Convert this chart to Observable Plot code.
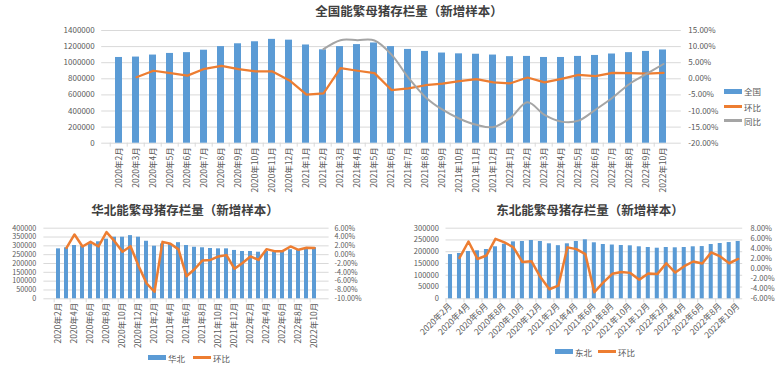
<!DOCTYPE html>
<html><head><meta charset="utf-8">
<script src="https://cdn.jsdelivr.net/npm/d3@7"></script>
<script src="https://cdn.jsdelivr.net/npm/@observablehq/plot@0.6"></script>
<style>
body{margin:0;background:#fff;font-family:"Noto Sans CJK SC","Noto Sans",sans-serif;}
#root{position:relative;width:782px;height:368px;overflow:hidden;background:#fff;}
.layer{position:absolute;}
.title{position:absolute;font-weight:bold;font-size:12.5px;color:#404040;white-space:nowrap;transform:translate(-50%,-50%);line-height:1;}
.leg{position:absolute;font-size:8.5px;color:#595959;white-space:nowrap;transform:translateY(-50%);line-height:1;}
.sw{position:absolute;}
</style></head><body><div id="root"></div>
<script>
const FONT = '"Noto Sans CJK SC","Noto Sans",sans-serif';

const months = ["2020年2月","2020年3月","2020年4月","2020年5月","2020年6月","2020年7月","2020年8月","2020年9月","2020年10月","2020年11月","2020年12月",
"2021年1月","2021年2月","2021年3月","2021年4月","2021年5月","2021年6月","2021年7月","2021年8月","2021年9月","2021年10月","2021年11月","2021年12月",
"2022年1月","2022年2月","2022年3月","2022年4月","2022年5月","2022年6月","2022年7月","2022年8月","2022年9月","2022年10月"];

const nationalStock = [1065000,1070000,1095000,1115000,1125000,1155000,1200000,1235000,1260000,1290000,1280000,
1220000,1160000,1200000,1225000,1245000,1200000,1165000,1140000,1120000,1110000,1105000,1095000,
1075000,1078000,1065000,1065000,1078000,1090000,1108000,1125000,1140000,1158000];
const nationalMoM = [null,0.5,2.5,1.75,1.0,3.1,4.0,3.0,2.3,2.3,-0.5,
-4.9,-4.5,3.3,2.5,1.75,-3.5,-3.0,-2.0,-1.5,-0.7,-0.1,-1.1,
-1.4,0.4,-1.1,0.0,1.2,0.8,1.85,1.75,1.6,1.85];
const nationalYoY = [null,null,null,null,null,null,null,null,null,null,null,
null,9.2,12.0,12.0,11.9,7.5,0.3,-5.7,-9.6,-12.4,-14.3,-15.0,
-12.1,-7.3,-11.2,-13.3,-13.0,-9.6,-5.9,-1.6,1.5,4.6];

const northStock = [283000,289000,302000,298000,311000,323000,338000,349000,349000,358000,349000,
326000,298000,311000,311000,318000,302000,292000,289000,285000,283000,283000,274000,
268000,268000,264000,268000,264000,268000,278000,278000,289000,289000];
const northMoM = [null,1.56,4.58,1.86,2.9,1.86,5.1,3.07,0.65,1.93,-2.5,
-6.5,-8.4,2.9,2.47,1.2,-4.9,-3.3,-1.3,-1.2,-0.4,-0.1,-3.2,
-1.9,-0.4,-1.2,1.25,0.8,0.8,1.86,1.1,1.56,1.5];

const northeastStock = [188000,192500,201000,204000,209500,221000,232000,242000,243500,247700,243500,
233700,225800,233700,243500,250700,238000,230700,228500,226500,225200,221000,218000,
215000,218000,216700,218000,221000,222000,230700,235000,239000,243500];
const northeastMoM = [null,2.1,5.36,1.9,2.58,5.9,5.2,4.2,1.3,1.45,-1.7,
-4.1,-3.4,4.2,3.85,2.85,-4.7,-2.75,-1.05,-0.68,-0.86,-2.2,-1.0,
-1.1,1.05,-0.8,0.46,1.4,1.0,3.2,2.4,1.05,1.9];

const nationalLeftTicks = [0,200000,400000,600000,800000,1000000,1200000,1400000];
const nationalRightTicks = [-20,-15,-10,-5,0,5,10,15];
const northLeftTicks = [0,50000,100000,150000,200000,250000,300000,350000,400000];
const northRightTicks = [-10,-8,-6,-4,-2,0,2,4,6];
const northeastLeftTicks = [0,50000,100000,150000,200000,250000,300000];
const northeastRightTicks = [-6,-4,-2,0,2,4,6,8];

const root = document.getElementById("root");

function place(el, left, top) {
  const d = document.createElement("div");
  d.className = "layer";
  d.style.left = left + "px";
  d.style.top = top + "px";
  d.appendChild(el);
  root.appendChild(d);
}

function panel(c) {
  const rows = months.map((m, i) => ({m, i, stock: c.stock[i], mom: c.mom[i], yoy: c.yoy ? c.yoy[i] : null}));
  const innerW = c.width - c.mL - c.mR;
  const innerH = c.height - c.mT - c.mB;
  const step = innerW / months.length;
  const xOpt = {domain: months, paddingInner: c.pad, paddingOuter: c.pad / 2, align: 0.5, axis: null, label: null};
  const common = {
    width: c.width, height: c.height,
    marginLeft: c.mL, marginRight: c.mR, marginTop: c.mT, marginBottom: c.mB,
    style: {background: "transparent", fontFamily: FONT, fontSize: c.yFont + "px", color: "#595959", overflow: "visible"}
  };
  const labelMonths = months.filter((m, i) => i % c.every === 0);
  const base = Plot.plot({
    ...common,
    x: xOpt,
    y: {domain: c.yDomain, axis: null, label: null},
    marks: [
      Plot.gridY(c.leftTicks, {stroke: "#d9d9d9", strokeOpacity: 1, strokeWidth: 1}),
      Plot.axisY(c.leftTicks, {anchor: "left", label: null, tickSize: 0, tickPadding: c.lPad, tickFormat: d3.format("d"), fill: "#595959"}),
      Plot.barY(rows, {x: "m", y: "stock", fill: "#5B9BD5"}),
      Plot.ruleX(labelMonths, {x: d => d, dx: -step / 2, insetTop: innerH, insetBottom: -4, stroke: "#d9d9d9"}),
      Plot.axisX(labelMonths, {anchor: "bottom", label: null, tickSize: 0, tickPadding: c.xPad, tickRotate: c.rotate, fontSize: c.xFont, fill: "#595959"})
    ]
  });
  place(base, c.left, c.top);
  const lineMarks = [
    Plot.axisY(c.rightTicks, {anchor: "right", label: null, tickSize: 0, tickPadding: c.rPad, tickFormat: d => d.toFixed(2) + "%", fill: "#595959"}),
    Plot.line(rows.filter(d => d.mom != null), {x: "m", y: "mom", stroke: "#ED7D31", strokeWidth: c.lw})
  ];
  if (c.yoy) lineMarks.push(Plot.line(rows.filter(d => d.yoy != null), {x: "m", y: "yoy", stroke: "#A5A5A5", strokeWidth: 2, curve: "catmull-rom"}));
  const over = Plot.plot({
    ...common,
    x: xOpt,
    y: {domain: c.rDomain, axis: null, label: null},
    marks: lineMarks
  });
  place(over, c.left, c.top);
}

function title(text, cx, cy) {
  const d = document.createElement("div");
  d.className = "title";
  d.textContent = text;
  d.style.left = cx + "px";
  d.style.top = cy + "px";
  root.appendChild(d);
}

function legendItem(kind, color, label, x, y) {
  const s = document.createElement("div");
  s.className = "sw";
  s.style.left = x + "px";
  s.style.width = "18px";
  s.style.background = color;
  if (kind === "bar") { s.style.top = (y - 2.5) + "px"; s.style.height = "5px"; }
  else { s.style.top = (y - 1.25) + "px"; s.style.height = "2.5px"; }
  root.appendChild(s);
  const t = document.createElement("div");
  t.className = "leg";
  t.textContent = label;
  t.style.left = (x + 20) + "px";
  t.style.top = y + "px";
  root.appendChild(t);
}

// National
panel({left: 0, top: 0, width: 782, height: 195, mL: 101.2, mR: 101.2, mT: 30, mB: 52.3,
  stock: nationalStock, mom: nationalMoM, yoy: nationalYoY,
  yDomain: [0, 1400000], leftTicks: nationalLeftTicks, rDomain: [-20, 15], rightTicks: nationalRightTicks,
  pad: 0.58, every: 1, rotate: -90, xPad: 4, xFont: 8.5, yFont: 8, lPad: 7, rPad: 7, lw: 2.25});
title("全国能繁母猪存栏量（新增样本）", 409, 11);
legendItem("bar", "#5B9BD5", "全国", 724, 91);
legendItem("line", "#ED7D31", "环比", 724, 106.7);
legendItem("line", "#A5A5A5", "同比", 724, 120.7);

// North China
panel({left: 0, top: 215, width: 380, height: 140, mL: 43.4, mR: 51.4, mT: 12.7, mB: 56.7,
  stock: northStock, mom: northMoM, yoy: null,
  yDomain: [0, 400000], leftTicks: northLeftTicks, rDomain: [-10, 6], rightTicks: northRightTicks,
  pad: 0.54, every: 2, rotate: -90, xPad: 4, xFont: 8.5, yFont: 7.2, lPad: 7.7, rPad: 5.4, lw: 2.5});
title("华北能繁母猪存栏量（新增样本）", 185, 210);
legendItem("bar", "#5B9BD5", "华北", 148, 357.5);
legendItem("line", "#ED7D31", "环比", 193, 357.5);

// Northeast China
panel({left: 390, top: 215, width: 392, height: 130, mL: 55.5, mR: 39.8, mT: 12.7, mB: 46.7,
  stock: northeastStock, mom: northeastMoM, yoy: null,
  yDomain: [0, 300000], leftTicks: northeastLeftTicks, rDomain: [-6, 8], rightTicks: northeastRightTicks,
  pad: 0.55, every: 2, rotate: -45, xPad: 6, xFont: 8.5, yFont: 7.5, lPad: 7.2, rPad: 7.8, lw: 2.5});
title("东北能繁母猪存栏量（新增样本）", 590, 210);
legendItem("bar", "#5B9BD5", "东北", 555, 351.7);
legendItem("line", "#ED7D31", "环比", 598, 351.7);
</script>
</body></html>
